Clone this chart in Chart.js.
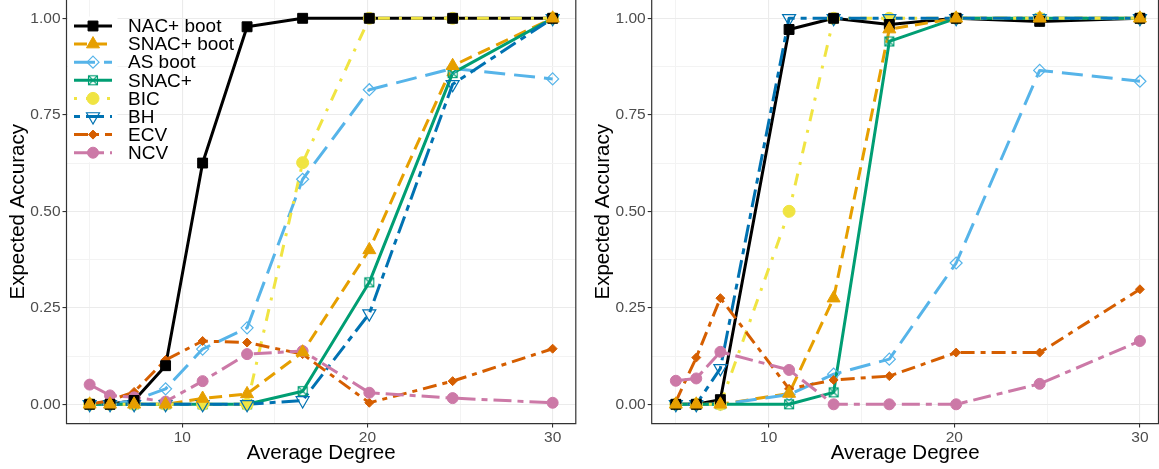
<!DOCTYPE html>
<html>
<head>
<meta charset="utf-8">
<script src="https://cdn.jsdelivr.net/npm/chart.js@4.4.0/dist/chart.umd.min.js"></script>
<style>
  html, body { margin: 0; padding: 0; background: #ffffff; }
  #wrap { position: relative; width: 1159px; height: 469px; overflow: hidden; }
  .panel { position: absolute; top: 0; height: 469px; }
  #pL { left: 0; width: 580px; }
  #pR { left: 580px; width: 579px; }
  canvas { display: block; }
</style>
</head>
<body>
<div id="wrap">
  <div class="panel" id="pL"><canvas id="cL" width="580" height="469"></canvas></div>
  <div class="panel" id="pR"><canvas id="cR" width="579" height="469"></canvas></div>
</div>
<script>
// ---- data ----
const degreeLeft  = [5, 6.1, 7.4, 9.1, 11.1, 13.5, 16.5, 20.1, 24.6, 30];
const degreeRight = [5, 6.1, 7.4, 11.1, 13.5, 16.5, 20.1, 24.6, 30];

const seriesNames = ['NAC+ boot', 'SNAC+ boot', 'AS boot', 'SNAC+', 'BIC', 'BH', 'ECV', 'NCV'];

// left panel
const nacBootLeft  = [0, 0, 0.01, 0.10, 0.625, 0.978, 1.0, 1.0, 1.0, 1.0];
const snacBootLeft = [0, 0, 0, 0, 0.015, 0.027, 0.135, 0.40, 0.877, 1.0];
const asBootLeft   = [0, 0, 0.01, 0.04, 0.143, 0.198, 0.583, 0.815, 0.87, 0.843];
const snacLeft     = [0, 0, 0, 0, 0, 0, 0.034, 0.316, 0.858, 1.0];
const bicLeft      = [0, 0, 0, 0, 0, 0, 0.626, 1.0, 1.0, 1.0];
const bhLeft       = [0, 0, 0, 0, 0, 0, 0.01, 0.235, 0.829, 1.0];
const ecvLeft      = [0, 0.01, 0.032, 0.115, 0.164, 0.16, 0.13, 0.004, 0.06, 0.144];
const ncvLeft      = [0.051, 0.023, 0.018, 0.007, 0.06, 0.13, 0.138, 0.03, 0.016, 0.004];

// right panel
const nacBootRight  = [0, 0, 0.012, 0.971, 1.0, 0.984, 1.0, 0.992, 1.0];
const snacBootRight = [0, 0, 0, 0.028, 0.275, 0.972, 1.0, 1.0, 1.0];
const asBootRight   = [0, 0, 0, 0.025, 0.078, 0.117, 0.366, 0.865, 0.837];
const snacRight     = [0, 0, 0, 0, 0.031, 0.94, 1.0, 1.0, 1.0];
const bicRight      = [0, 0, 0, 0.5, 1.0, 1.0, 1.0, 1.0, 1.0];
const bhRight       = [0, 0, 0.093, 1.0, 1.0, 1.0, 1.0, 1.0, 1.0];
const ecvRight      = [0.007, 0.121, 0.275, 0.04, 0.063, 0.073, 0.134, 0.134, 0.298];
const ncvRight      = [0.061, 0.067, 0.136, 0.089, 0, 0, 0, 0.053, 0.164];

const xTickValues = [5, 10, 15, 20, 25, 30];
const xTickLabels = ['', '10', '', '20', '', '30'];
const yTickValues = [0, 0.125, 0.25, 0.375, 0.5, 0.625, 0.75, 0.875, 1.0];
const yTickLabels = ['0.00', '', '0.25', '', '0.50', '', '0.75', '', '1.00'];

// ---- styles ----
const FONT = '"Liberation Sans", Arial, Helvetica, sans-serif';
Chart.defaults.font.family = FONT;

const seriesColors = ['#000000', '#E69F00', '#56B4E9', '#009E73', '#F0E442', '#0072B2', '#D55E00', '#CC79A7'];
const seriesDash = [[], [13, 7], [21, 9], [], [3, 9, 12, 9], [6, 6, 18, 6], [14, 6, 5, 6], [18, 6, 6, 6]];

// square with a cross inside, used for SNAC+
function crossBox(color) {
  const c = document.createElement('canvas');
  c.width = 12; c.height = 12;
  const g = c.getContext('2d');
  g.strokeStyle = color; g.lineWidth = 1.1;
  g.strokeRect(1.5, 1.5, 9, 9);
  g.beginPath();
  g.moveTo(1.5, 1.5); g.lineTo(10.5, 10.5);
  g.moveTo(10.5, 1.5); g.lineTo(1.5, 10.5);
  g.stroke();
  return c;
}
const crossBoxImg = crossBox('#009E73');

const seriesMarkers = [
  { style: 'rect',     r: 7,   fill: true },
  { style: 'triangle', r: 7.5, fill: true },
  { style: 'rectRot',  r: 6,   fill: false },
  { style: 'image',    r: 6,   fill: false },
  { style: 'circle',   r: 6,   fill: true },
  { style: 'triangle', r: 7.5, fill: false, rot: 180 },
  { style: 'rectRot',  r: 4.5, fill: true },
  { style: 'circle',   r: 5.5, fill: true }
];

// marker stacking: SNAC+ boot on top, then NAC+ boot, then the rest
const markerOrder = [1, 0, 15, 14, 13, 12, 11, 10];

function isMajorX(v) { return Math.abs(v / 10 - Math.round(v / 10)) < 1e-6; }
function isMajorY(v) { return Math.abs(v * 4 - Math.round(v * 4)) < 1e-6; }

// panel border: left, bottom, right
const panelBorder = {
  id: 'panelBorder',
  afterDatasetsDraw(chart) {
    const { ctx, chartArea: a } = chart;
    ctx.save();
    ctx.strokeStyle = '#333333';
    ctx.lineWidth = 1.2;
    ctx.beginPath();
    ctx.moveTo(a.left, 0);
    ctx.lineTo(a.left, a.bottom);
    ctx.lineTo(a.right, a.bottom);
    ctx.lineTo(a.right, 0);
    ctx.stroke();
    ctx.restore();
  }
};

function drawMarker(ctx, m, x, y, color) {
  if (m.style === 'image') {
    ctx.drawImage(crossBoxImg, x - 6, y - 6);
    return;
  }
  ctx.save();
  ctx.translate(x, y);
  ctx.rotate((m.rot || 0) * Math.PI / 180);
  ctx.beginPath();
  const r = m.r;
  if (m.style === 'circle') {
    ctx.arc(0, 0, r, 0, Math.PI * 2);
  } else if (m.style === 'rect') {
    const s = r * Math.SQRT1_2;
    ctx.rect(-s, -s, 2 * s, 2 * s);
  } else if (m.style === 'rectRot') {
    ctx.moveTo(0, -r); ctx.lineTo(r, 0); ctx.lineTo(0, r); ctx.lineTo(-r, 0); ctx.closePath();
  } else if (m.style === 'triangle') {
    for (let k = 0; k < 3; k++) {
      const a = k * 2 * Math.PI / 3;
      const px = Math.sin(a) * r, py = -Math.cos(a) * r;
      if (k === 0) ctx.moveTo(px, py); else ctx.lineTo(px, py);
    }
    ctx.closePath();
  }
  ctx.lineWidth = m.fill ? 1 : 1.2;
  ctx.strokeStyle = color;
  if (m.fill) { ctx.fillStyle = color; ctx.fill(); }
  ctx.stroke();
  ctx.restore();
}

// key column + labels inside the left panel
const insideLegend = {
  id: 'insideLegend',
  afterDraw(chart, args, opts) {
    if (!opts || !opts.show) return;
    const ctx = chart.ctx;
    const x0 = 74, x1 = 112, xm = 93, xt = 128, y0 = 26, dy = 18.1;
    ctx.save();
    ctx.fillStyle = '#ffffff';
    ctx.fillRect(chart.chartArea.left + 1.5, y0 - 9.5, 116 - chart.chartArea.left, dy * seriesNames.length + 1);
    seriesNames.forEach((name, i) => {
      const y = y0 + dy * i;
      ctx.save();
      ctx.strokeStyle = seriesColors[i];
      ctx.lineWidth = 3;
      ctx.lineCap = 'butt';
      ctx.setLineDash(seriesDash[i]);
      ctx.beginPath();
      ctx.moveTo(x0, y); ctx.lineTo(x1, y);
      ctx.stroke();
      ctx.restore();
      drawMarker(ctx, seriesMarkers[i], xm, y, seriesColors[i]);
      ctx.fillStyle = '#000000';
      ctx.font = '19px ' + FONT;
      ctx.textBaseline = 'middle';
      ctx.textAlign = 'left';
      ctx.fillText(name, xt, y + 1);
    });
    ctx.restore();
  }
};

function buildDatasets(xs, valueLists) {
  const lines = [], points = [];
  valueLists.forEach((vals, i) => {
    const pts = xs.map((x, k) => ({ x: x, y: vals[k] }));
    const color = seriesColors[i];
    lines.push({
      label: seriesNames[i],
      data: pts,
      borderColor: color,
      borderWidth: 3,
      borderDash: seriesDash[i],
      borderCapStyle: 'butt',
      borderJoinStyle: 'round',
      pointRadius: 0,
      fill: false,
      tension: 0,
      order: 60 - i
    });
    const m = seriesMarkers[i];
    points.push({
      label: seriesNames[i] + ' points',
      data: pts,
      showLine: false,
      pointStyle: m.style === 'image' ? crossBoxImg : m.style,
      pointRadius: m.r,
      pointRotation: m.rot || 0,
      pointBackgroundColor: m.fill ? color : 'rgba(0,0,0,0)',
      pointBorderColor: color,
      pointBorderWidth: m.fill ? 1 : 1.2,
      order: markerOrder[i]
    });
  });
  return lines.concat(points);
}

function makeChart(id, xs, valueLists, cfg) {
  return new Chart(document.getElementById(id), {
    type: 'line',
    data: { datasets: buildDatasets(xs, valueLists) },
    plugins: [panelBorder, insideLegend],
    options: {
      responsive: false,
      animation: false,
      events: [],
      layout: { autoPadding: false, padding: { left: 0, right: cfg.rightPad, top: 0, bottom: 0 } },
      plugins: {
        legend: { display: false },
        tooltip: { enabled: false },
        insideLegend: { show: cfg.legend }
      },
      scales: {
        x: {
          type: 'linear',
          min: cfg.xMin,
          max: cfg.xMax,
          afterBuildTicks: s => { s.ticks = xTickValues.map(v => ({ value: v })); },
          afterFit: s => { s.height = 45.4; s.paddingLeft = 0; s.paddingRight = 0; },
          border: { display: false },
          grid: {
            color: c => (c.tick && isMajorX(c.tick.value)) ? '#EBEBEB' : '#F3F3F3',
            lineWidth: c => (c.tick && isMajorX(c.tick.value)) ? 1.1 : 1,
            tickColor: c => (c.tick && isMajorX(c.tick.value)) ? '#333333' : 'rgba(0,0,0,0)',
            tickWidth: 1.1,
            tickLength: 4,
            drawTicks: true
          },
          ticks: {
            autoSkip: false,
            maxRotation: 0,
            padding: 1,
            color: '#4D4D4D',
            font: { size: 15.5 },
            callback: (v, i) => xTickLabels[i]
          },
          title: {
            display: true,
            text: 'Average Degree',
            color: '#000000',
            font: { size: 20.5 },
            padding: { top: 0, bottom: 3 }
          }
        },
        y: {
          type: 'linear',
          min: -0.05,
          max: 1.0474,
          afterBuildTicks: s => { s.ticks = yTickValues.map(v => ({ value: v })); },
          afterFit: s => { s.width = cfg.yWidth; s.paddingTop = 0; s.paddingBottom = 0; },
          border: { display: false },
          grid: {
            color: c => (c.tick && isMajorY(c.tick.value)) ? '#EBEBEB' : '#F3F3F3',
            lineWidth: c => (c.tick && isMajorY(c.tick.value)) ? 1.1 : 1,
            tickColor: c => (c.tick && isMajorY(c.tick.value)) ? '#333333' : 'rgba(0,0,0,0)',
            tickWidth: 1.1,
            tickLength: 4,
            drawTicks: true
          },
          ticks: {
            autoSkip: false,
            padding: 2,
            color: '#4D4D4D',
            font: { size: 15.5 },
            callback: (v, i) => yTickLabels[i]
          },
          title: {
            display: true,
            text: 'Expected Accuracy',
            color: '#000000',
            font: { size: 20.5 },
            padding: { top: cfg.titlePad, bottom: 0 }
          }
        }
      }
    }
  });
}

makeChart('cL', degreeLeft,
  [nacBootLeft, snacBootLeft, asBootLeft, snacLeft, bicLeft, bhLeft, ecvLeft, ncvLeft],
  { xMin: 3.75, xMax: 31.25, yWidth: 66.5, rightPad: 4.2, titlePad: 6, legend: true });

makeChart('cR', degreeRight,
  [nacBootRight, snacBootRight, asBootRight, snacRight, bicRight, bhRight, ecvRight, ncvRight],
  { xMin: 3.7, xMax: 31.0, yWidth: 71.7, rightPad: 0.5, titlePad: 11, legend: false });
</script>
</body>
</html>
